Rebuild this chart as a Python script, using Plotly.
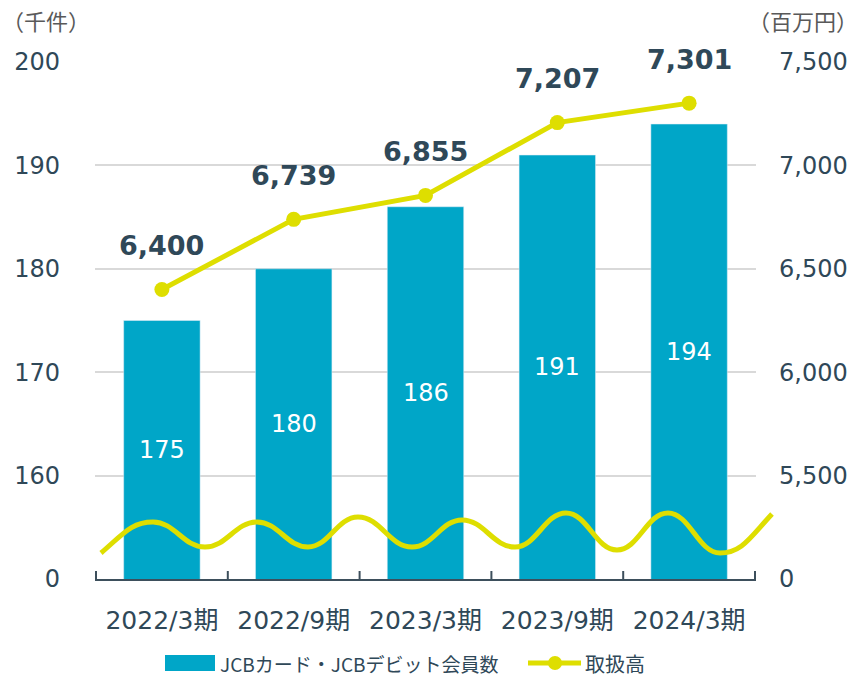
import plotly.graph_objects as go

categories = ["2022/3期", "2022/9期", "2023/3期", "2023/9期", "2024/3期"]
members = [175, 180, 186, 191, 194]          # 千件
volume = [6400, 6739, 6855, 7207, 7301]      # 百万円

left_ticks = [150, 160, 170, 180, 190, 200]
left_ticktext = ["0", "160", "170", "180", "190", "200"]
right_ticks = [5000, 5500, 6000, 6500, 7000, 7500]
right_ticktext = ["0", "5,500", "6,000", "6,500", "7,000", "7,500"]

BAR = "#00a6c8"
YEL = "#dede00"
TXT = "#2f4858"
UNIT = "#595959"
AXIS = "#3d4f5c"
FONT = "DejaVu Sans, Noto Sans CJK JP, sans-serif"
CJK = "Noto Sans CJK JP, sans-serif"

W, H = 863, 684
L, R, T, B = 95, 107, 62, 105
PW, PH = W - L - R, H - T - B

def px(xp):
    return (xp - L) / PW

def py(yp):
    return (H - B - yp) / PH

fig = go.Figure()
fig.add_trace(go.Bar(
    x=categories, y=members, marker_color=BAR, width=0.58,
    yaxis="y", showlegend=False,
))
fig.add_trace(go.Scatter(
    x=categories, y=volume, mode="lines+markers", yaxis="y2",
    line=dict(color=YEL, width=5), marker=dict(size=15, color=YEL),
    showlegend=False,
))

annotations = []
# bar value labels (centre of the visible part of each bar)
for c, v in zip(categories, members):
    annotations.append(dict(
        x=c, y=(left_ticks[0] + v) / 2, xref="x", yref="y", text=str(v), showarrow=False,
        font=dict(size=24, color="white", family=FONT),
    ))
# line value labels
for c, v in zip(categories, volume):
    annotations.append(dict(
        x=c, y=v, xref="x", yref="y2", text=f"{v:,}", showarrow=False,
        yshift=44, font=dict(size=27, color=TXT, family="DejaVu Sans, sans-serif", weight="bold"),
    ))

# unit labels
annotations.append(dict(x=px(0), y=py(20), xref="paper", yref="paper", text="（千件）",
                        showarrow=False, xanchor="left", yanchor="middle",
                        font=dict(size=22, color=UNIT, family=CJK)))
annotations.append(dict(x=px(860), y=py(20), xref="paper", yref="paper", text="（百万円）",
                        showarrow=False, xanchor="right", yanchor="middle",
                        font=dict(size=22, color=UNIT, family=CJK)))

# custom legend
annotations.append(dict(x=px(218), y=py(663), xref="paper", yref="paper",
                        text="JCBカード・JCBデビット会員数", showarrow=False,
                        xanchor="left", yanchor="middle",
                        font=dict(size=19, color=TXT, family=CJK)))
annotations.append(dict(x=px(583), y=py(663), xref="paper", yref="paper",
                        text="取扱高", showarrow=False, xanchor="left", yanchor="middle",
                        font=dict(size=20, color=TXT, family=CJK)))

shapes = []
shapes.append(dict(type="rect", xref="paper", yref="paper",
                   x0=px(165), x1=px(215), y0=py(655), y1=py(671),
                   fillcolor=BAR, line=dict(width=0)))
shapes.append(dict(type="line", xref="paper", yref="paper",
                   x0=px(528), x1=px(581), y0=py(663), y1=py(663),
                   line=dict(color=YEL, width=5)))
shapes.append(dict(type="circle", xref="paper", yref="paper",
                   x0=px(548), x1=px(562), y0=py(656), y1=py(670),
                   fillcolor=YEL, line=dict(width=0)))

# category boundary ticks (pointing up from the axis line)
for i in range(len(categories) + 1):
    shapes.append(dict(type="line", xref="x", yref="paper",
                       x0=i - 0.5, x1=i - 0.5, y0=0, y1=8 / PH,
                       line=dict(color=AXIS, width=2), layer="above"))

# axis break wave
wave = [(101, 553), (153, 522), (205, 547), (257, 522), (308, 547), (358, 517),
        (412, 547), (462, 520), (515, 547), (566, 513), (617, 550), (668, 513),
        (720, 553), (772, 514)]
path = f"M {px(wave[0][0])},{py(wave[0][1])}"
for (x1, y1), (x2, y2) in zip(wave[:-1], wave[1:]):
    d = (x2 - x1) * 0.42
    c1y = y1 if (x1, y1) != wave[0] else y1 - 0.6 * (y1 - y2)
    c2y = y2 if (x2, y2) != wave[-1] else y2 + 0.6 * (y1 - y2)
    path += f" C {px(x1 + d)},{py(c1y)} {px(x2 - d)},{py(c2y)} {px(x2)},{py(y2)}"
shapes.append(dict(type="path", xref="paper", yref="paper", path=path,
                   line=dict(color=YEL, width=5), layer="above"))

fig.update_layout(
    width=W, height=H, margin=dict(l=L, r=R, t=T, b=B),
    paper_bgcolor="white", plot_bgcolor="white",
    font=dict(family=FONT, color=TXT),
    annotations=annotations, shapes=shapes, showlegend=False,
    xaxis=dict(
        type="category", showline=True, linecolor=AXIS, linewidth=2,
        ticks="", tickfont=dict(size=25, color=TXT, family=FONT), ticklabelstandoff=18,
        showgrid=False, zeroline=False,
    ),
    yaxis=dict(
        range=[150, 200], tickvals=left_ticks, ticktext=left_ticktext,
        showgrid=True, gridcolor="#d9d9d9", gridwidth=2, zeroline=False,
        showline=False, ticks="", tickfont=dict(size=24, color=TXT, family=FONT),
        ticklabelstandoff=34,
    ),
    yaxis2=dict(
        range=[5000, 7500], tickvals=right_ticks, ticktext=right_ticktext,
        overlaying="y", side="right", showgrid=False, zeroline=False, showline=False,
        ticks="", tickfont=dict(size=24, color=TXT, family=FONT), ticklabelstandoff=22,
    ),
)

fig.write_html("out.html", post_script="document.body.style.margin='0';",
               config={"displayModeBar": False})
